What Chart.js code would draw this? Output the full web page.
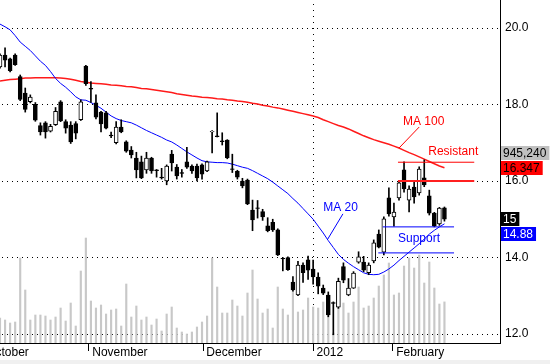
<!DOCTYPE html>
<html>
<head>
<meta charset="utf-8">
<script src="https://cdn.jsdelivr.net/npm/chart.js@4.4.1/dist/chart.umd.min.js"></script>
<style>
  html, body { margin: 0; padding: 0; background: #fff; }
  canvas { display: block; }
</style>
</head>
<body>
<canvas id="stockchart" width="550" height="364"></canvas>
<script>
'use strict';

// daily prices, one entry per trading day (left to right)
var openPrices = [18.98, 19.29, 19.19, 19.29, 18.73, 18.30, 18.07, 18.00, 17.45, 17.52,
  17.30, 17.47, 18.07, 17.55, 17.46, 17.50, 17.60, 19.00, 18.42, 18.04,
  17.80, 17.78, 17.20, 17.00, 17.41, 17.02, 16.81, 16.60, 16.50, 16.29,
  16.60, 16.29, 16.10, 16.00, 16.70, 16.36, 16.22, 16.50, 16.39, 16.39,
  16.42, 16.26, 17.28, 17.18, 17.05, 17.07, 16.32, 16.25, 16.00, 16.02,
  15.24, 15.30, 15.20, 14.83, 14.92, 14.72, 13.98, 14.00, 13.36, 13.02,
  13.80, 13.94, 13.70, 13.49, 13.20, 13.02, 12.82, 12.70, 13.76, 13.02,
  13.20, 13.88, 13.88, 13.60, 13.91, 14.61, 14.14, 15.56, 15.06, 15.56,
  16.29, 15.50, 15.84, 15.69, 16.08, 15.61, 15.16, 14.88, 15.30];
var highPrices = [19.32, 19.48, 19.21, 19.32, 18.77, 18.43, 18.25, 18.05, 17.52, 17.55,
  17.48, 17.92, 18.10, 17.60, 17.55, 17.55, 18.12, 19.02, 18.60, 18.25,
  17.82, 17.82, 17.28, 17.55, 17.60, 17.05, 16.90, 16.75, 16.65, 16.75,
  16.62, 16.30, 16.33, 16.42, 16.80, 16.43, 16.30, 16.88, 16.42, 16.44,
  16.45, 16.52, 17.32, 17.78, 17.26, 17.08, 16.70, 16.28, 16.07, 16.05,
  15.50, 15.49, 15.26, 15.04, 15.00, 14.75, 14.00, 14.02, 13.50, 13.90,
  13.86, 14.04, 13.93, 13.60, 13.28, 13.10, 12.84, 13.46, 13.86, 13.45,
  13.63, 14.15, 14.03, 13.86, 14.46, 14.72, 15.06, 15.82, 15.42, 16.00,
  16.50, 15.87, 15.97, 16.37, 16.55, 15.76, 15.18, 15.31, 15.32];
var lowPrices = [18.95, 18.98, 18.85, 19.02, 18.10, 17.80, 18.04, 17.56, 17.20, 17.12,
  17.28, 17.45, 17.55, 17.25, 16.98, 17.10, 17.58, 18.50, 18.05, 17.62,
  17.28, 17.36, 17.13, 16.97, 17.26, 16.75, 16.60, 16.08, 16.06, 16.20,
  16.20, 16.10, 16.05, 15.90, 16.26, 16.05, 16.10, 16.33, 16.20, 16.00,
  16.05, 16.24, 16.73, 17.15, 16.94, 16.58, 16.22, 16.05, 15.82, 15.38,
  14.70, 15.03, 14.97, 14.67, 14.68, 14.05, 13.65, 13.66, 13.12, 13.00,
  13.35, 13.43, 13.30, 13.05, 13.03, 12.45, 11.98, 12.67, 13.34, 13.00,
  13.19, 13.85, 13.63, 13.55, 13.86, 14.25, 14.07, 15.08, 14.82, 15.50,
  15.71, 15.19, 15.42, 15.63, 15.85, 15.11, 14.80, 14.84, 14.95];
var closePrices = [19.29, 19.16, 18.88, 19.04, 18.13, 17.87, 18.19, 17.59, 17.28, 17.28,
  17.43, 17.82, 17.57, 17.38, 17.02, 17.25, 18.07, 18.54, 18.40, 17.67,
  17.49, 17.38, 17.18, 17.41, 17.28, 16.78, 16.68, 16.29, 16.08, 16.60,
  16.26, 16.27, 16.08, 16.39, 16.47, 16.13, 16.20, 16.36, 16.26, 16.08,
  16.18, 16.50, 17.30, 17.16, 17.03, 16.60, 16.30, 16.10, 15.87, 15.40,
  14.98, 15.28, 15.06, 14.70, 14.72, 14.07, 13.96, 13.68, 13.15, 13.80,
  13.60, 13.67, 13.49, 13.25, 13.07, 12.50, 12.80, 13.38, 13.41, 13.20,
  13.59, 14.02, 13.67, 13.80, 14.38, 14.27, 15.01, 15.14, 15.19, 15.95,
  15.79, 15.79, 15.58, 16.31, 15.90, 15.16, 14.82, 15.29, 15.00];

// volume in thousands of shares
var volumes = [575, 529, 460, 483, 1955, 1219, 529, 644, 644, 621,
  529, 598, 805, 506, 920, 391, 1656, 2415, 966, 805,
  874, 667, 759, 782, 391, 1357, 598, 851, 529, 598,
  414, 552, 276, 667, 828, 345, 253, 207, 253, 368,
  483, 621, 1955, 1288, 690, 690, 989, 851, 621, 1150,
  1679, 1012, 690, 782, 345, 1288, 782, 644, 1288, 713,
  759, 1035, 828, 805, 943, 644, 230, 805, 920, 690,
  943, 1288, 805, 851, 1035, 1311, 1564, 1840, 1104, 1150,
  1771, 1955, 1725, 2024, 1380, 1863, 1265, 897, 945.24];

var ma20 = [20.10, 20.03, 19.95, 19.80, 19.63, 19.52, 19.41, 19.27, 19.13, 19.02,
  18.86, 18.68, 18.55, 18.45, 18.33, 18.20, 18.12, 18.11, 18.05, 17.98,
  17.90, 17.80, 17.70, 17.63, 17.58, 17.55, 17.52, 17.46, 17.39, 17.32,
  17.26, 17.20, 17.14, 17.07, 17.02, 16.94, 16.85, 16.76, 16.68, 16.60,
  16.53, 16.50, 16.49, 16.48, 16.48, 16.47, 16.44, 16.40, 16.36, 16.33,
  16.27, 16.20, 16.13, 16.06, 15.97, 15.87, 15.77, 15.67, 15.54, 15.42,
  15.28, 15.14, 15.00, 14.82, 14.64, 14.44, 14.26, 14.08, 13.95, 13.85,
  13.76, 13.68, 13.60, 13.56, 13.55, 13.56, 13.62, 13.70, 13.80, 13.92,
  14.03, 14.14, 14.25, 14.36, 14.48, 14.61, 14.71, 14.80, 14.88];
var ma100 = [18.61, 18.63, 18.65, 18.66, 18.67, 18.69, 18.69, 18.70, 18.70, 18.70,
  18.70, 18.70, 18.69, 18.68, 18.66, 18.63, 18.60, 18.58, 18.56, 18.55,
  18.54, 18.53, 18.51, 18.50, 18.49, 18.47, 18.46, 18.44, 18.42, 18.41,
  18.39, 18.37, 18.35, 18.33, 18.31, 18.28, 18.26, 18.24, 18.22, 18.21,
  18.19, 18.18, 18.17, 18.15, 18.14, 18.12, 18.11, 18.09, 18.08, 18.06,
  18.03, 18.01, 17.98, 17.96, 17.93, 17.91, 17.88, 17.85, 17.82, 17.79,
  17.76, 17.73, 17.70, 17.66, 17.60, 17.55, 17.50, 17.45, 17.41, 17.36,
  17.30, 17.24, 17.18, 17.13, 17.08, 17.04, 17.00, 16.96, 16.91, 16.86,
  16.80, 16.74, 16.69, 16.63, 16.57, 16.51, 16.45, 16.39, 16.347];

// axis ticks
var yTicks = [12, 14, 16, 18, 20];
var monthTickPos = [-3.4, 17.6, 40.2, 62.0, 77.8];
var monthLabels = ['October', 'November', 'December', '2012', 'February'];
var yearLinePos = 62.0;

// hand drawn notes: [from day, price, to day, price]
var resistLine = [78.8, 16.49, 93.9, 16.49];
var resistLine2 = [78.8, 16.0, 93.9, 16.0];
var supportLine = [75.8, 14.80, 89.9, 14.80];
var supportLine2 = [74.9, 14.12, 89.9, 14.12];
var ma100Leader = [83.0, 17.41, 79.0, 16.86];
var ma20Leader = [67.9, 15.14, 64.8, 14.46];
// [day, price, text, colour]
var noteLabels = [
  [79.8, 17.56, 'MA 100', '#ff0000'],
  [84.8, 16.76, 'Resistant', '#ff0000'],
  [64.0, 15.31, 'MA 20', '#0000ff'],
  [78.8, 14.50, 'Support', '#0000ff']
];

var FONT = '"Liberation Sans", Arial, sans-serif';

var days = closePrices.map(function (v, i) { return i; });
var bodies = days.map(function (i) { return { x: i, y: [openPrices[i], closePrices[i]] }; });
var wicks = days.map(function (i) { return { x: i, y: [lowPrices[i], highPrices[i]] }; });
var bodyColors = days.map(function (i) { return closePrices[i] >= openPrices[i] ? '#ffffff' : '#000000'; });
var volData = days.map(function (i) { return { x: i, y: volumes[i] }; });
var ma20Data = days.map(function (i) { return { x: i, y: ma20[i] }; });
var ma100Data = days.map(function (i) { return { x: i, y: ma100[i] }; });

// no automatic label padding, the plot fills the canvas up to the axes
function noPadding(scale) {
  scale.paddingLeft = 0;
  scale.paddingRight = 0;
  scale.paddingTop = 0;
  scale.paddingBottom = 0;
}

var notes = {
  id: 'notes',
  beforeDraw: function (chart) {
    var c = chart.ctx;
    c.save();
    c.fillStyle = '#ffffff';
    c.fillRect(0, 0, chart.width, chart.height);
    c.fillStyle = '#f0f0f0';
    c.fillRect(0, chart.height - 4, chart.width, 4);
    c.restore();
  },
  // dotted grid
  beforeDatasetsDraw: function (chart) {
    var xs = chart.scales.x, ys = chart.scales.y, c = chart.ctx, a = chart.chartArea;
    var px, py;
    c.save();
    c.fillStyle = '#000000';
    yTicks.forEach(function (t) {
      py = Math.round(ys.getPixelForValue(t));
      for (px = a.left + 2; px < a.right - 1; px += 5) c.fillRect(px, py, 1, 1);
    });
    px = Math.round(xs.getPixelForValue(yearLinePos));
    for (py = a.top + 4; py < a.bottom; py += 6) c.fillRect(px, py, 1, 1);
    c.restore();
  },
  afterDatasetsDraw: function (chart) {
    var xs = chart.scales.x, ys = chart.scales.y, c = chart.ctx;
    function seg(a, color, w) {
      c.strokeStyle = color;
      c.lineWidth = w;
      c.beginPath();
      c.moveTo(xs.getPixelForValue(a[0]), ys.getPixelForValue(a[1]));
      c.lineTo(xs.getPixelForValue(a[2]), ys.getPixelForValue(a[3]));
      c.stroke();
    }
    c.save();
    seg(resistLine, '#ff0000', 1);
    seg(resistLine2, '#ff2020', 2);
    seg(supportLine, '#0000ff', 1);
    seg(supportLine2, '#0000ff', 1);
    seg(ma100Leader, '#ff0000', 1);
    seg(ma20Leader, '#0000ff', 1);
    c.font = '12px ' + FONT;
    c.textAlign = 'left';
    c.textBaseline = 'middle';
    noteLabels.forEach(function (n) {
      c.fillStyle = n[3];
      c.fillText(n[2], xs.getPixelForValue(n[0]), ys.getPixelForValue(n[1]));
    });
    c.restore();
  },
  // last value boxes on the price axis
  afterDraw: function (chart) {
    var ys = chart.scales.y, c = chart.ctx;
    var n = closePrices.length - 1;
    var left = chart.chartArea.right + 1;
    function box(text, top, bg, fg) {
      var w = c.measureText(text).width + 5;
      c.fillStyle = bg;
      c.fillRect(left, top, w, 14);
      c.fillStyle = fg;
      c.fillText(text, left + 2, top + 7.5);
    }
    c.save();
    c.font = '12px ' + FONT;
    c.textAlign = 'left';
    c.textBaseline = 'middle';
    var maTop = Math.round(ys.getPixelForValue(ma100[n])) - 7;
    box(ma100[n].toFixed(3), maTop, '#ff0000', '#000000');
    box(Math.round(volumes[n] * 1000).toLocaleString('en-US'), maTop - 15, '#c0c0c0', '#000000');
    var closeTop = Math.round(ys.getPixelForValue(closePrices[n])) - 7;
    box(String(closePrices[n]), closeTop, '#000000', '#ffffff');
    box(ma20[n].toFixed(2), closeTop + 15, '#0000ff', '#ffffff');
    c.restore();
  }
};

var ctx = document.getElementById('stockchart').getContext('2d');
var chart = new Chart(ctx, {
  type: 'bar',
  data: {
    datasets: [
      { type: 'line', data: ma20Data, borderColor: '#0000ff', borderWidth: 1,
        pointRadius: 0, tension: 0, order: 2 },
      { type: 'line', data: ma100Data, borderColor: '#ff1a1a', borderWidth: 1.5,
        pointRadius: 0, tension: 0, order: 3 },
      { data: bodies, backgroundColor: bodyColors, borderColor: '#000000', borderWidth: 1,
        borderSkipped: false, barThickness: 4, grouped: false, order: 0 },
      { data: wicks, backgroundColor: '#000000', barThickness: 1, grouped: false, order: 1 },
      { data: volData, yAxisID: 'yv', backgroundColor: '#c8c8c8', barThickness: 1.5,
        grouped: false, order: 5 }
    ]
  },
  options: {
    responsive: false,
    animation: false,
    devicePixelRatio: 1,
    layout: { padding: 0, autoPadding: false },
    plugins: { legend: { display: false }, tooltip: { enabled: false } },
    scales: {
      x: {
        type: 'linear',
        min: 0,
        max: 99,
        offset: false,
        afterBuildTicks: function (scale) {
          scale.ticks = monthTickPos.map(function (v) { return { value: v }; });
        },
        afterFit: function (scale) {
          scale.height = 21;
          noPadding(scale);
        },
        grid: {
          offset: false,
          drawOnChartArea: false,
          color: '#000000',
          tickColor: '#000000',
          tickLength: 8
        },
        border: { display: true, color: '#000000', width: 1 },
        ticks: {
          autoSkip: false,
          maxRotation: 0,
          align: 'start',
          padding: -6,
          color: '#000000',
          font: { family: FONT, size: 12 },
          callback: function (v) {
            var k = monthTickPos.indexOf(v);
            return k < 0 ? '' : ' ' + monthLabels[k];
          }
        }
      },
      y: {
        position: 'right',
        min: 11.765,
        max: 20.73,
        afterBuildTicks: function (scale) {
          scale.ticks = yTicks.map(function (v) { return { value: v }; });
        },
        afterFit: function (scale) {
          scale.width = 50;
          noPadding(scale);
        },
        grid: { drawOnChartArea: false, drawTicks: false },
        border: { display: true, color: '#000000', width: 1 },
        ticks: {
          padding: 5,
          color: '#000000',
          font: { family: FONT, size: 12 },
          callback: function (v) { return v.toFixed(1); }
        }
      },
      yv: {
        display: false,
        min: 0,
        max: 7890
      }
    }
  },
  plugins: [notes]
});
</script>
</body>
</html>
